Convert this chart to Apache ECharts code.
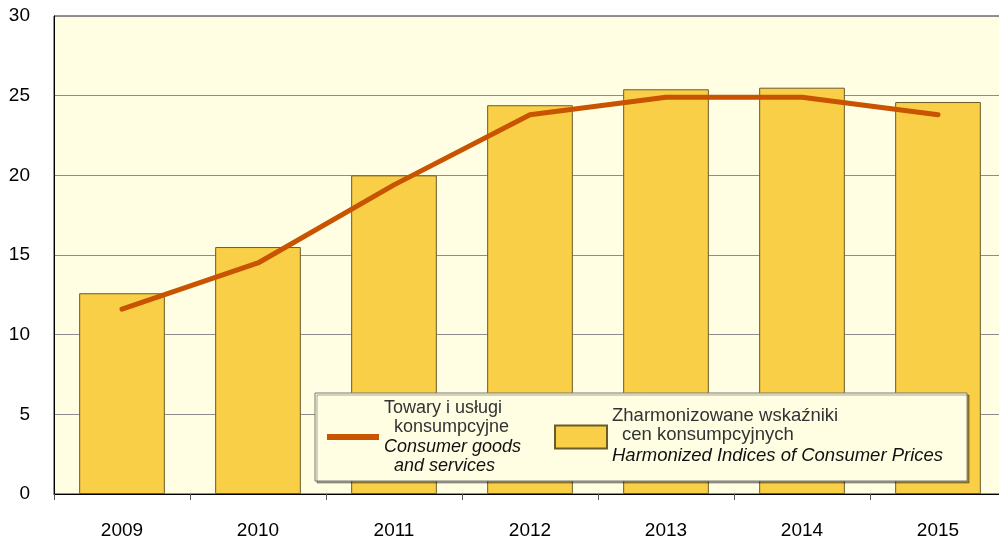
<!DOCTYPE html>
<html>
<head>
<meta charset="utf-8">
<script src="https://cdn.jsdelivr.net/npm/echarts@6/dist/echarts.min.js"></script>
<style>
html, body { margin: 0; padding: 0; background: #fff; overflow: hidden; }
/* wykres nieco szerszy niż okno - prawa krawędź siatki wychodzi poza kadr */
#chart { width: 1006px; height: 540px; }
</style>
</head>
<body>
<div id="chart"></div>
<script>
// lata
var years = ['2009', '2010', '2011', '2012', '2013', '2014', '2015'];
// Zharmonizowane wskaźniki cen konsumpcyjnych (słupki)
var hicp = [12.6, 15.5, 20.0, 24.4, 25.4, 25.5, 24.6];
// Towary i usługi konsumpcyjne (linia)
var goods = [11.6, 14.5, 19.4, 23.8, 24.9, 24.9, 23.8];
var yTicks = [0, 5, 10, 15, 20, 25, 30];

var lineName = 'Towary i usługi konsumpcyjne';
var barName = 'Zharmonizowane wskaźniki cen konsumpcyjnych';

var myChart = echarts.init(document.getElementById('chart'));
myChart.setOption({
    animation: false,
    textStyle: { fontFamily: 'Liberation Sans, Arial, sans-serif' },
    grid: {
        left: 54,
        top: 16,
        right: 0,
        bottom: 45,
        show: true,
        backgroundColor: '#FFFEE3',
        borderColor: '#222',
        borderWidth: 1
    },
    legend: {
        left: 315,
        top: 393,
        orient: 'horizontal',
        padding: [6, 24, 6, 12],
        itemGap: 10,
        itemWidth: 52,
        itemHeight: 23,
        backgroundColor: '#FFFEE3',
        borderColor: '#777',
        borderWidth: 1,
        shadowColor: 'rgba(0,0,0,0.35)',
        shadowOffsetX: 2,
        shadowOffsetY: 2,
        data: [
            { name: lineName, icon: 'path://M0,0L53,0L53,6L0,6Z', itemStyle: { color: '#C85300' } },
            { name: barName, icon: 'rect' }
        ],
        formatter: function (name) {
            if (name === lineName) {
                return '{a|Towary i usługi}\n{b|konsumpcyjne}\n{c|Consumer goods}\n{d|and services}';
            }
            return '{a2|Zharmonizowane wskaźniki}\n{b2|cen konsumpcyjnych}\n{c2|Harmonized Indices of Consumer Prices}';
        },
        textStyle: {
            color: '#333',
            fontSize: 18,
            lineHeight: 19,
            rich: {
                a: { fontSize: 18, color: '#333', lineHeight: 19, width: 160 },
                b: { fontSize: 18, color: '#333', lineHeight: 19, padding: [0, 0, 0, 10] },
                c: { fontSize: 18, color: '#111', lineHeight: 19, fontStyle: 'italic' },
                d: { fontSize: 18, color: '#111', lineHeight: 19, fontStyle: 'italic', padding: [0, 0, 0, 10] },
                a2: { fontSize: 18.5, color: '#333', lineHeight: 19 },
                b2: { fontSize: 18.5, color: '#333', lineHeight: 19, padding: [0, 0, 0, 10] },
                c2: { fontSize: 18.5, color: '#111', lineHeight: 23, fontStyle: 'italic' }
            }
        }
    },
    xAxis: {
        type: 'category',
        data: years,
        boundaryGap: true,
        axisLine: { lineStyle: { color: '#000', width: 1 } },
        axisTick: { show: true, length: 6, alignWithLabel: false, lineStyle: { color: '#555' } },
        axisLabel: { color: '#000', fontSize: 19, margin: 27 },
        splitLine: { show: false }
    },
    yAxis: {
        type: 'value',
        min: yTicks[0],
        max: yTicks[yTicks.length - 1],
        interval: 5,
        axisLine: { show: true, lineStyle: { color: '#000', width: 1 } },
        axisTick: { show: false },
        axisLabel: { color: '#000', fontSize: 19, margin: 24 },
        splitLine: { lineStyle: { color: '#8c8c8c', width: 1 } }
    },
    series: [
        {
            name: barName,
            type: 'bar',
            data: hicp,
            barCategoryGap: '37%',
            itemStyle: {
                color: '#F9CF47',
                borderColor: '#6b5a2a',
                borderWidth: 1
            },
            z: 2
        },
        {
            name: lineName,
            type: 'line',
            data: goods,
            symbol: 'none',
            smooth: false,
            lineStyle: { color: '#C85300', width: 5, cap: 'round', join: 'round' },
            itemStyle: { color: '#C85300' },
            z: 3
        }
    ]
});
</script>
</body>
</html>
